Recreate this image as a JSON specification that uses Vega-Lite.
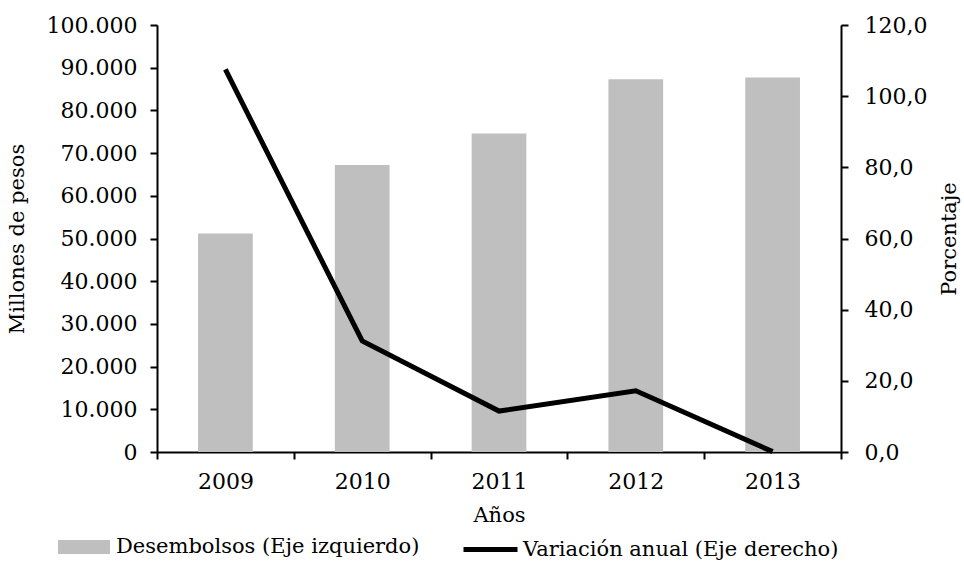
{
  "$schema": "https://vega.github.io/schema/vega-lite/v6.json",
  "width": 684,
  "height": 427,
  "autosize": "none",
  "padding": {"left": 157, "top": 25, "right": 123, "bottom": 112},
  "background": "white",
  "config": {
    "view": {"stroke": null},
    "font": "DejaVu Serif",
    "axis": {
      "labelFont": "DejaVu Serif",
      "titleFont": "DejaVu Serif",
      "labelFontSize": 22,
      "titleFontSize": 21,
      "titleFontWeight": "normal",
      "labelColor": "black",
      "titleColor": "black",
      "domainColor": "black",
      "tickColor": "black",
      "domainWidth": 2,
      "tickWidth": 2,
      "tickSize": 7,
      "grid": false
    },
    "legend": {
      "labelFont": "DejaVu Serif",
      "labelFontSize": 21,
      "labelColor": "black",
      "padding": 0,
      "labelLimit": 500
    }
  },
  "data": {
    "values": [
      {"year": "2009", "desembolsos": 51200, "variacion": 107.5},
      {"year": "2010", "desembolsos": 67200, "variacion": 31.2},
      {"year": "2011", "desembolsos": 74600, "variacion": 11.5},
      {"year": "2012", "desembolsos": 87300, "variacion": 17.2},
      {"year": "2013", "desembolsos": 87700, "variacion": 0.1}
    ]
  },
  "encoding": {
    "x": {
      "field": "year",
      "type": "ordinal",
      "scale": {"paddingInner": 0, "paddingOuter": 0},
      "axis": {"labelAngle": 0, "tickBand": "extent", "title": "Años", "labelPadding": 12, "titlePadding": 12}
    }
  },
  "layer": [
    {
      "mark": {"type": "bar", "width": {"band": 0.4}},
      "encoding": {
        "y": {
          "field": "desembolsos",
          "type": "quantitative",
          "scale": {"domain": [0, 100000], "nice": false},
          "axis": {
            "orient": "left",
            "values": [0, 10000, 20000, 30000, 40000, 50000, 60000, 70000, 80000, 90000, 100000],
            "labelExpr": "replace(format(datum.value, ','), ',', '.')",
            "title": "Millones de pesos",
            "titlePadding": 19,
            "labelPadding": 13
          }
        },
        "fill": {
          "datum": "Desembolsos (Eje izquierdo)",
          "scale": {"range": ["#bfbfbf"]},
          "legend": {
            "title": null,
            "orient": "none",
            "legendX": -99,
            "legendY": 496,
            "symbolType": "M-1,-0.27L1,-0.27L1,0.27L-1,0.27Z",
            "symbolSize": 2704,
            "symbolStrokeWidth": 0,
            "labelOffset": 6
          }
        }
      }
    },
    {
      "mark": {"type": "line", "strokeWidth": 5},
      "encoding": {
        "y": {
          "field": "variacion",
          "type": "quantitative",
          "scale": {"domain": [0, 120], "nice": false},
          "axis": {
            "orient": "right",
            "values": [0, 20, 40, 60, 80, 100, 120],
            "labelExpr": "replace(format(datum.value, '.1f'), '.', ',')",
            "title": "Porcentaje",
            "titleAngle": 270,
            "titlePadding": 33,
            "labelPadding": 16
          }
        },
        "stroke": {
          "datum": "Variación anual (Eje derecho)",
          "scale": {"range": ["#000000"]},
          "legend": {
            "title": null,
            "orient": "none",
            "legendX": 304,
            "legendY": 495,
            "symbolType": "stroke",
            "symbolSize": 2916,
            "symbolStrokeWidth": 5,
            "labelOffset": 3
          }
        }
      }
    }
  ],
  "resolve": {"scale": {"y": "independent", "fill": "independent", "stroke": "independent"}}
}
